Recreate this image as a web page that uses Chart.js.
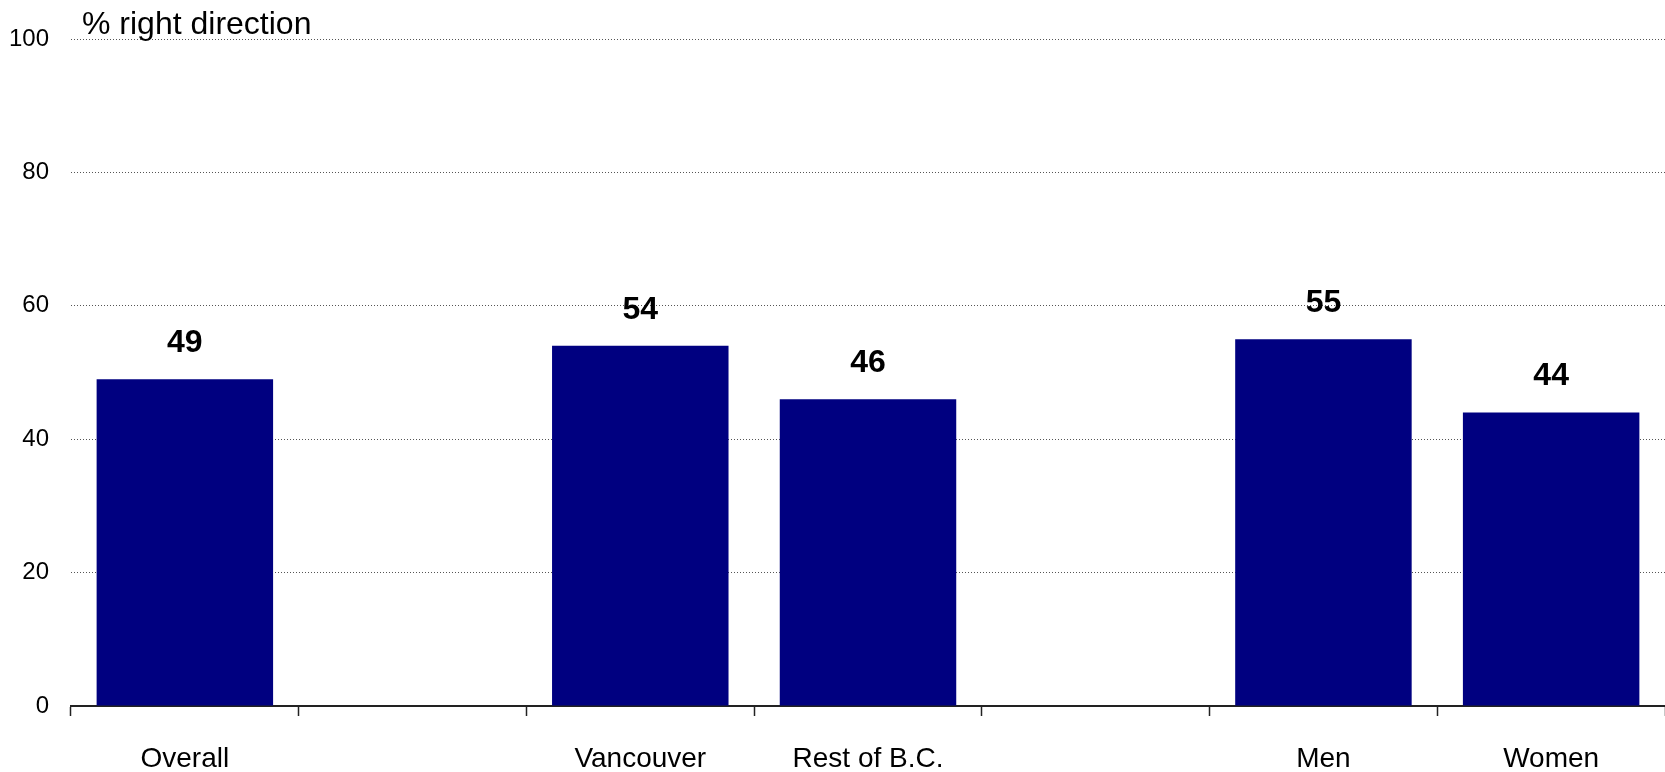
<!DOCTYPE html>
<html>
<head>
<meta charset="utf-8">
<script src="https://cdn.jsdelivr.net/npm/chart.js@4/dist/chart.umd.min.js"></script>
<style>
  body { margin: 0; background: #fff; }
  #wrap { width: 1665px; height: 772px; position: relative; }
</style>
</head>
<body>
<div id="wrap"><canvas id="c"></canvas></div>
<script>
// data
const categories = ['Overall', '', 'Vancouver', 'Rest of B.C.', '', 'Men', 'Women'];
const rightDirection = [49, null, 54, 46, null, 55, 44];
const yTicks = [0, 20, 40, 60, 80, 100];
const axisTitle = '% right direction';

const FONT = '"Liberation Sans", Arial, sans-serif';

// value labels over each bar
const barLabels = {
  id: 'barLabels',
  afterDatasetsDraw(chart) {
    const ctx = chart.ctx;
    const meta = chart.getDatasetMeta(0);
    ctx.save();
    ctx.font = 'bold 32px ' + FONT;
    ctx.fillStyle = '#000';
    ctx.textAlign = 'center';
    ctx.textBaseline = 'middle';
    meta.data.forEach((bar, i) => {
      const v = rightDirection[i];
      if (v === null) return;
      ctx.fillText(String(v), bar.x, bar.y - 36);
    });
    ctx.restore();
  }
};

// the "% right direction" text at the top left
const topTitle = {
  id: 'topTitle',
  afterDraw(chart) {
    const ctx = chart.ctx;
    ctx.save();
    ctx.font = '32px ' + FONT;
    ctx.fillStyle = '#000';
    ctx.textAlign = 'left';
    ctx.textBaseline = 'alphabetic';
    ctx.fillText(axisTitle, 82, 34);
    ctx.restore();
  }
};

new Chart(document.getElementById('c'), {
  type: 'bar',
  data: {
    labels: categories,
    datasets: [{
      data: rightDirection,
      backgroundColor: '#000080',
      borderWidth: 0,
      barPercentage: 0.775,
      categoryPercentage: 1
    }]
  },
  options: {
    responsive: true,
    maintainAspectRatio: false,
    animation: false,
    layout: { padding: { top: 39, right: 0, left: 0, bottom: 0 } },
    plugins: {
      legend: { display: false },
      tooltip: { enabled: false }
    },
    scales: {
      x: {
        offset: true,
        grid: {
          offset: true,
          drawOnChartArea: false,
          drawTicks: true,
          tickLength: 10,
          tickWidth: 1.5,
          tickColor: '#222'
        },
        border: { display: true, color: '#222', width: 2 },
        ticks: {
          autoSkip: false,
          maxRotation: 0,
          padding: 26,
          color: '#000',
          font: { family: FONT, size: 28 }
        },
        afterFit(scale) { scale.height = 66; }
      },
      y: {
        min: 0,
        max: 100,
        afterBuildTicks(scale) { scale.ticks = yTicks.map(v => ({ value: v })); },
        grid: {
          drawTicks: false,
          color: '#555',
          lineWidth: 1
        },
        border: { display: false, dash: [1, 2] },
        ticks: {
          padding: 22,
          color: '#000',
          font: { family: FONT, size: 24 }
        },
        afterFit(scale) { scale.width = 71; }
      }
    }
  },
  plugins: [barLabels, topTitle]
});
</script>
</body>
</html>
